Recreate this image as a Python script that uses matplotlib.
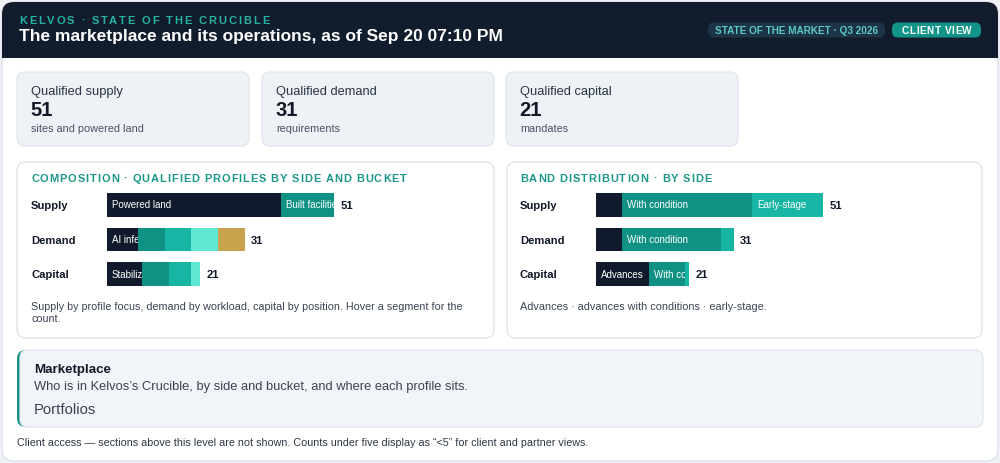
import matplotlib
matplotlib.use("Agg")
import matplotlib.pyplot as plt
from matplotlib.patches import FancyBboxPatch, Rectangle
from matplotlib import transforms
from matplotlib.transforms import Bbox, TransformedBbox
from matplotlib.font_manager import findfont, FontProperties
from matplotlib.ft2font import FT2Font

plt.rcParams['font.family'] = ['Liberation Sans', 'DejaVu Sans']

# ---------------- data ----------------
sides = ["Supply", "Demand", "Capital"]

kpi_titles = ["Qualified supply", "Qualified demand", "Qualified capital"]
kpi_values = [51, 31, 21]
kpi_subs = ["sites and powered land", "requirements", "mandates"]

comp_supply_labels = ["Powered land", "Built facilities"]
comp_supply_values = [39, 12]
comp_demand_labels = ["AI inference", "AI training", "Cloud", "Enterprise", "Other"]
comp_demand_values = [7, 6, 6, 6, 6]
comp_capital_labels = ["Stabilized", "Development", "Forward", "Land"]
comp_capital_values = [8, 6, 5, 2]

band_labels = ["Advances", "With condition", "Early-stage"]
band_supply = [6, 29, 16]
band_demand = [6, 22, 3]
band_capital = [12, 8, 1]

label_min_count = 7

# ---------------- style ----------------
NAVY = "#111a2c"
TEAL6 = "#0f9184"
TEAL5 = "#16b5a4"
TEAL3 = "#5ee8d3"
GOLD = "#c9a24e"
comp_colors = [NAVY, TEAL6, TEAL5, TEAL3, GOLD]
band_colors = [NAVY, TEAL6, TEAL5]

W, H = 1000, 463
fig = plt.figure(figsize=(W / 100, H / 100), dpi=100)
fig.patch.set_facecolor("#eef1f5")
bg = fig.add_axes([0, 0, 1, 1])
bg.set_xlim(0, W)
bg.set_ylim(H, 0)
bg.axis("off")


def rbox(x0, y0, x1, y1, r, fc, ec="none", lw=1.0, z=1):
    p = FancyBboxPatch((x0, y0), x1 - x0, y1 - y0,
                       boxstyle=f"round,pad=0,rounding_size={r}",
                       fc=fc, ec=ec, lw=lw, zorder=z)
    bg.add_patch(p)
    return p


def advance_px(s, size_pt, weight="normal"):
    path = findfont(FontProperties(family="Liberation Sans", weight=weight))
    f = FT2Font(path)
    f.set_size(size_pt, 100)
    out = []
    for ch in s:
        g = f.load_char(ord(ch))
        out.append(g.linearHoriAdvance / 65536.0)
    return out


def spaced(x, y, s, size, color, spacing, weight="bold", **kw):
    advs = advance_px(s, size, weight)
    for ch, a in zip(s, advs):
        if ch != " ":
            bg.text(x, y, ch, fontsize=size, color=color, fontweight=weight,
                    va="baseline", ha="left", zorder=5, **kw)
        x += a + spacing
    return x

# outer card
rbox(2, 2, 998, 461, 12, "white", "#dde3ea", 1.0, z=0)
# header
rbox(2, 2, 998, 58, 12, "#111d2d", z=1)
bg.add_patch(Rectangle((2, 30), 996, 28, fc="#111d2d", ec="none", zorder=1))

spaced(19, 24, "KELVOS · STATE OF THE CRUCIBLE", 8.0, "#27b3a3", 1.85)
bg.text(19, 41, "The marketplace and its operations, as of Sep 20 07:10 PM",
        fontsize=12.5, fontweight="bold", color="white", va="baseline", zorder=5)

rbox(708, 22.5, 885, 37.5, 6, "#1d3347", z=2)
bg.text(796.5, 34, "STATE OF THE MARKET · Q3 2026", fontsize=7.2, fontweight="bold",
        color="#5cc9bf", ha="center", va="baseline", zorder=5)
rbox(892, 22.5, 981, 37.5, 6, "#139488", z=2)
spaced(902, 34, "CLIENT VIEW", 7.3, "white", 0.45)

# KPI cards
kx = [17, 262, 506]
for x0, t, v, s in zip(kx, kpi_titles, kpi_values, kpi_subs):
    rbox(x0, 72, x0 + 232, 146, 8, "#eef2f7", "#e0e5ec", 0.9, z=1)
    bg.text(x0 + 14, 95.5, t, fontsize=9.3, color="#2b3445", va="baseline", zorder=5)
    bg.text(x0 + 13.5, 116.5, str(v), fontsize=14.5, fontweight="bold",
            color="#111827", va="baseline", zorder=5)
    bg.text(x0 + 14, 132.3, s, fontsize=7.85, color="#475263", va="baseline", zorder=5)

# panels
rbox(17, 162, 494, 338, 9, "white", "#e0e5ec", 1.0, z=1)
rbox(507, 162, 982, 338, 9, "white", "#e0e5ec", 1.0, z=1)
spaced(31, 182, "COMPOSITION · QUALIFIED PROFILES BY SIDE AND BUCKET", 7.9, "#1a9688", 0.95)
spaced(520, 182, "BAND DISTRIBUTION · BY SIDE", 7.9, "#1a9688", 0.95)

bg.text(31, 310, "Supply by profile focus, demand by workload, capital by position. Hover a segment for the",
        fontsize=7.78, color="#3a4352", va="baseline", zorder=5)
bg.text(31, 322, "count.", fontsize=7.78, color="#3a4352", va="baseline", zorder=5)
bg.text(520, 310, "Advances · advances with conditions · early-stage.",
        fontsize=7.8, color="#3a4352", va="baseline", zorder=5)


def stacked(ax_left_px, label_x_px, rows):
    top_px, bot_px = 187.7, 291.5
    ax = fig.add_axes([ax_left_px / W, 1 - bot_px / H, 227.6 / W, (bot_px - top_px) / H])
    ax.set_xlim(0, 51)
    ax.set_ylim(2.5, -0.5)
    ax.axis("off")
    ax.patch.set_alpha(0)
    lab_tr = transforms.offset_copy(
        transforms.blended_transform_factory(bg.transData, ax.transData), fig, x=0, y=-4, units="dots")
    val_tr = transforms.offset_copy(ax.transData, fig, x=6, y=-4, units="dots")
    in_tr = transforms.offset_copy(ax.transData, fig, x=5, y=-3.5, units="dots")
    hgt = 0.68
    for i, (side, vals, labels, colors) in enumerate(rows):
        left = 0
        for v, lab, c in zip(vals, labels, colors):
            ax.barh(i, v, left=left, height=hgt, color=c, edgecolor="none")
            if v >= label_min_count:
                t = ax.text(left, i, lab, transform=in_tr, fontsize=7.0, color="white",
                            va="baseline", ha="left", clip_on=True)
                t.set_clip_box(TransformedBbox(
                    Bbox([[left, i - hgt / 2], [left + v, i + hgt / 2]]), ax.transData))
            left += v
        bg.text(label_x_px, i, side, transform=lab_tr, fontsize=8.1, fontweight="bold",
                color="#111827", va="baseline", ha="left")
        ax.text(left, i, str(left), transform=val_tr, fontsize=8.1, fontweight="bold",
                color="#111827", va="baseline", ha="left", clip_on=False)
    return ax

stacked(106.7, 31, [
    ("Supply", comp_supply_values, comp_supply_labels, comp_colors),
    ("Demand", comp_demand_values, comp_demand_labels, comp_colors),
    ("Capital", comp_capital_values, comp_capital_labels, comp_colors),
])
stacked(595.7, 520, [
    ("Supply", band_supply, band_labels, band_colors),
    ("Demand", band_demand, band_labels, band_colors),
    ("Capital", band_capital, band_labels, band_colors),
])

# marketplace section
rbox(17, 350, 983, 427, 9, "#119284", z=1)
rbox(20, 350, 983, 427, 8, "#f1f4f8", "#e0e5ec", 0.9, z=2)
bg.text(34, 373.5, "Marketplace", fontsize=9.6, fontweight="bold", color="#111827",
        va="baseline", zorder=5)
bg.text(34, 390, "Who is in Kelvos\u2019s Crucible, by side and bucket, and where each profile sits.",
        fontsize=9.3, color="#3a4352", va="baseline", zorder=5)
bg.text(34, 414, "Portfolios", fontsize=10.7, color="#3a4352", va="baseline", zorder=5)

bg.text(17, 445.5, "Client access \u2014 sections above this level are not shown. Counts under five display as \u201c<5\u201d for client and partner views.",
        fontsize=7.77, color="#2e3644", va="baseline", zorder=5)

fig.savefig("out.png", dpi=100, facecolor=fig.get_facecolor())
